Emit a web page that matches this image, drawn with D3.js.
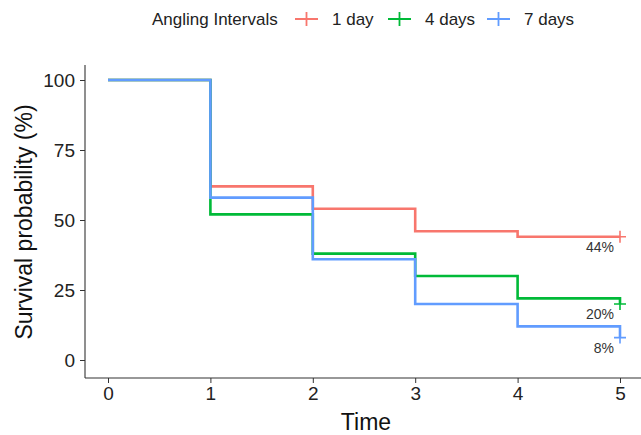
<!DOCTYPE html>
<html>
<head>
<meta charset="utf-8">
<script src="https://cdn.jsdelivr.net/npm/d3@7"></script>
<style>
  body { margin: 0; background: #fff; }
  text { font-family: "Liberation Sans", Arial, sans-serif; }
</style>
</head>
<body>
<svg id="chart" width="641" height="435"></svg>
<script>
// survival curves, step values at times 0..5
var times = [0, 1, 2, 3, 4, 5];
var groups = ["1 day", "4 days", "7 days"];
var colors = ["#F8766D", "#00BA38", "#619CFF"];
var surv1 = [100, 62, 54, 46, 44, 44];
var surv4 = [100, 52, 38, 30, 22, 20];
var surv7 = [100, 58, 36, 20, 12, 8];
var endLabels = ["44%", "20%", "8%"];
var yTicks = [0, 25, 50, 75, 100];

var series = [surv1, surv4, surv7];

var svg = d3.select("#chart");

var x = d3.scaleLinear().domain([0, 5]).range([108, 620]);
var y = d3.scaleLinear().domain([0, 100]).range([360, 80]);

// axes
var xAxis = svg.append("g")
  .attr("transform", "translate(0,378)")
  .call(d3.axisBottom(x).tickValues(times).tickFormat(d3.format("d"))
    .tickSize(5).tickPadding(4).tickSizeOuter(0));
xAxis.select(".domain").attr("d", "M85,0H641").attr("stroke", "#333").attr("stroke-width", 1.1);
xAxis.selectAll(".tick line").attr("stroke", "#333");
xAxis.selectAll(".tick text").attr("font-size", 19).attr("fill", "#222");

var yAxis = svg.append("g")
  .attr("transform", "translate(85,0)")
  .call(d3.axisLeft(y).tickValues(yTicks).tickFormat(d3.format("d"))
    .tickSize(5).tickPadding(5).tickSizeOuter(0));
yAxis.select(".domain").attr("d", "M0,65V378").attr("stroke", "#333").attr("stroke-width", 1.1);
yAxis.selectAll(".tick line").attr("stroke", "#333");
yAxis.selectAll(".tick text").attr("font-size", 19).attr("fill", "#222");

// axis titles
svg.append("text")
  .attr("x", 366).attr("y", 430)
  .attr("text-anchor", "middle")
  .attr("font-size", 23).attr("fill", "#111")
  .text("Time");

svg.append("text")
  .attr("transform", "translate(32,222) rotate(-90)")
  .attr("text-anchor", "middle")
  .attr("font-size", 23).attr("fill", "#111")
  .text("Survival probability (%)");

// step lines
var line = d3.line()
  .x(function(d, i) { return x(times[i]); })
  .y(function(d) { return y(d); })
  .curve(d3.curveStepAfter);

series.forEach(function(s, k) {
  svg.append("path")
    .datum(s)
    .attr("d", line)
    .attr("fill", "none")
    .attr("stroke", colors[k])
    .attr("stroke-width", 2.6);

  // censor mark at the end
  var cx = x(5), cy = y(s[s.length - 1]);
  svg.append("path")
    .attr("d", "M" + (cx - 6) + "," + cy + "H" + (cx + 6) + "M" + cx + "," + (cy - 6) + "V" + (cy + 6))
    .attr("stroke", colors[k])
    .attr("stroke-width", 1.6);

  svg.append("text")
    .attr("x", cx - 6).attr("y", cy + 15)
    .attr("text-anchor", "end")
    .attr("font-size", 14).attr("fill", "#333")
    .text(endLabels[k]);
});

// legend
var legend = svg.append("g");
legend.append("text")
  .attr("x", 152).attr("y", 25)
  .attr("font-size", 17).attr("fill", "#222")
  .text("Angling Intervals");

var legX = [295, 388, 487];
groups.forEach(function(g, k) {
  var lx = legX[k];
  legend.append("path")
    .attr("d", "M" + lx + ",19H" + (lx + 23) + "M" + (lx + 11.5) + ",12V26")
    .attr("stroke", colors[k])
    .attr("stroke-width", 1.8);
  legend.append("text")
    .attr("x", lx + 37).attr("y", 25)
    .attr("font-size", 17).attr("fill", "#222")
    .text(g);
});
</script>
</body>
</html>
